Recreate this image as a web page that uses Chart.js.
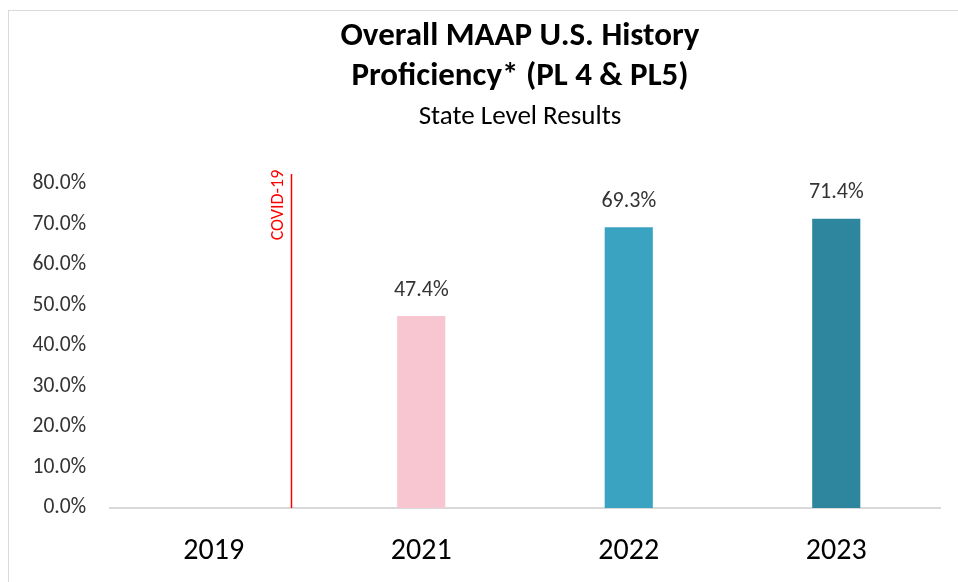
<!DOCTYPE html>
<html>
<head>
<meta charset="utf-8">
<script src="https://cdn.jsdelivr.net/npm/chart.js@4.4.1/dist/chart.umd.min.js"></script>
<style>
    html, body { margin: 0; padding: 0; background: #fff; }
    #wrap { width: 958px; height: 582px; position: relative; }
</style>
</head>
<body>
<div id="wrap"><canvas id="chart_history"></canvas></div>
<script>
const categories = ['2019', '2021', '2022', '2023'];
const proficiency = [null, 47.4, 69.3, 71.4];
const barColours = ['#3aa3c2', '#f8c6d0', '#3aa3c2', '#2e869e'];
const yTicks = [0, 10, 20, 30, 40, 50, 60, 70, 80];
const covidAt = 0.37; // category position of the COVID-19 marker
const titleLines = ['Overall MAAP U.S. History', 'Proficiency* (PL 4 & PL5)'];
const subtitle = 'State Level Results';

const fontStack = "Carlito, Calibri, Lato, 'Open Sans', sans-serif";

(function(){

    const extras = {
        id: 'extras',
        beforeDraw(chart) {
            const ctx = chart.ctx;
            ctx.save();
            ctx.strokeStyle = '#d9d9d9';
            ctx.lineWidth = 1;
            ctx.strokeRect(8.5, 10.5, 970, 600);
            ctx.restore();
        },
        afterDraw(chart) {
            const ctx = chart.ctx;
            const x = chart.scales.x;
            const y = chart.scales.y;
            ctx.save();

            // titles
            ctx.fillStyle = '#000';
            ctx.textAlign = 'center';
            ctx.textBaseline = 'middle';
            ctx.font = 'bold 33px ' + fontStack;
            ctx.fillText(titleLines[0], 520, 37);
            ctx.fillText(titleLines[1], 520, 77);
            ctx.font = '27px ' + fontStack;
            ctx.fillText(subtitle, 520, 117);

            // value labels
            ctx.fillStyle = '#333';
            ctx.font = '22px ' + fontStack;
            proficiency.forEach((v, i) => {
                if (v === null) return;
                ctx.fillText(v.toFixed(1) + '%', x.getPixelForValue(i), y.getPixelForValue(v) - 26);
            });

            // COVID marker
            const cx = Math.round(x.getPixelForValue(covidAt)) + 0.5;
            ctx.strokeStyle = '#ff0000';
            ctx.lineWidth = 1.5;
            ctx.beginPath();
            ctx.moveTo(cx, y.getPixelForValue(82.5));
            ctx.lineTo(cx, y.bottom);
            ctx.stroke();
            ctx.translate(cx - 13, 205);
            ctx.rotate(-Math.PI / 2);
            ctx.fillStyle = '#ff0000';
            ctx.font = '18px ' + fontStack;
            ctx.fillText('COVID-19', 0, 0);
            ctx.restore();
        }
    };

    const ctxHistory = document.getElementById('chart_history').getContext('2d');
    const myChart = new Chart(ctxHistory, {
        type: 'bar',
        data: {
            labels: categories,
            datasets: [{
                data: proficiency,
                backgroundColor: barColours,
                borderWidth: 0,
                barPercentage: 0.232,
                categoryPercentage: 1
            }]
        },
        options: {
            responsive: true,
            maintainAspectRatio: false,
            animation: false,
            layout: {
                padding: { left: 8, right: 18, top: 184, bottom: 0 }
            },
            plugins: {
                legend: { display: false },
                tooltip: { enabled: false }
            },
            scales: {
                x: {
                    grid: { display: false, drawTicks: false },
                    border: { display: true, color: '#d9d9d9', width: 2 },
                    ticks: {
                        color: '#000',
                        padding: 25,
                        font: { family: fontStack, size: 30 }
                    },
                    afterFit(scale) { scale.height = 74; }
                },
                y: {
                    min: 0,
                    max: 80,
                    afterBuildTicks(scale) {
                        scale.ticks = yTicks.map((v) => ({ value: v }));
                    },
                    grid: { display: false, drawTicks: false },
                    border: { display: false },
                    ticks: {
                        color: '#333',
                        padding: 24,
                        font: { family: fontStack, size: 21.5 },
                        callback: (value) => value.toFixed(1) + '%'
                    },
                    afterFit(scale) { scale.width = 102; }
                }
            }
        },
        plugins: [extras]
    });
})();
</script>
</body>
</html>
